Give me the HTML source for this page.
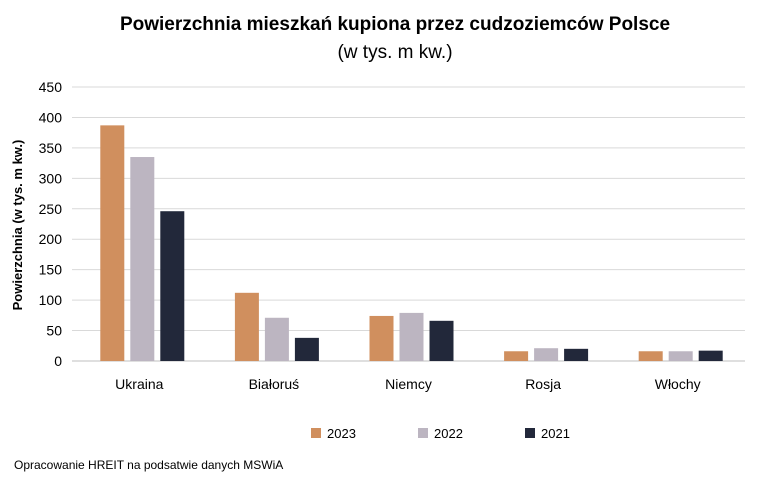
<!DOCTYPE html>
<html><head><meta charset="utf-8"><style>
body{margin:0;background:#fff;font-family:"Liberation Sans",sans-serif;}
svg text{font-family:"Liberation Sans",sans-serif;}
</style></head><body>
<svg id="chart" width="779" height="481" xmlns="http://www.w3.org/2000/svg">
<text x="395" y="30" text-anchor="middle" font-size="19" font-weight="bold" fill="#000">Powierzchnia mieszkań kupiona przez cudzoziemców Polsce</text>
<text x="395" y="58" text-anchor="middle" font-size="19" fill="#000">(w tys. m kw.)</text>
<text transform="translate(22,225) rotate(-90)" text-anchor="middle" font-size="13" font-weight="bold" fill="#000">Powierzchnia (w tys. m kw.)</text>
<g id="grid"></g><g id="bars"></g><g id="labels"></g>
<g>
<rect x="311" y="428" width="10" height="10" fill="#D08F5E"/>
<text x="327" y="438" font-size="13">2023</text>
<rect x="418" y="428" width="10" height="10" fill="#BCB5C1"/>
<text x="434" y="438" font-size="13">2022</text>
<rect x="525" y="428" width="10" height="10" fill="#22283A"/>
<text x="541" y="438" font-size="13">2021</text>
</g>
<text x="14" y="469" font-size="12" fill="#000">Opracowanie HREIT na podsatwie danych MSWiA</text>
</svg>
<script>
const categories=["Ukraina","Białoruś","Niemcy","Rosja","Włochy"];
const s2023=[387,112,74,16,16];
const s2022=[335,71,79,21,16];
const s2021=[246,38,66,20,17];
const ticks=[0,50,100,150,200,250,300,350,400,450];
const series=[{n:"2023",v:s2023,c:"#D08F5E"},{n:"2022",v:s2022,c:"#BCB5C1"},{n:"2021",v:s2021,c:"#22283A"}];
const NS="http://www.w3.org/2000/svg";
const x0=72,x1=745,y0=361,yTop=87,maxV=450;
const y=v=>y0-(v/maxV)*(y0-yTop);
const bw=(x1-x0)/categories.length;
const grid=document.getElementById('grid'),bars=document.getElementById('bars'),labels=document.getElementById('labels');
function mk(t,a,p){const e=document.createElementNS(NS,t);for(const k in a)e.setAttribute(k,a[k]);p.appendChild(e);return e;}
ticks.forEach(t=>{
 const l=mk('line',{x1:x0,x2:x1,y1:y(t),y2:y(t),stroke:t===0?'#BFBFBF':'#D9D9D9','stroke-width':1},grid);
 
 
 const tx=mk('text',{x:62,y:y(t)+5,'text-anchor':'end','font-size':14,fill:'#000'},labels);
 tx.textContent=t;
 
 
});
categories.forEach((c,i)=>{
 const cx=x0+bw*(i+0.5);
 series.forEach((s,j)=>{
  const bx=cx-39+j*30;
  const r=mk('rect',{x:bx,y:y(s.v[i]),width:24,height:y0-y(s.v[i]),fill:s.c},bars);
  
  
 });
 const tx=mk('text',{x:cx,y:389,'text-anchor':'middle','font-size':14,fill:'#000'},labels);
 tx.textContent=c;
 
 
});
</script>
</body></html>
